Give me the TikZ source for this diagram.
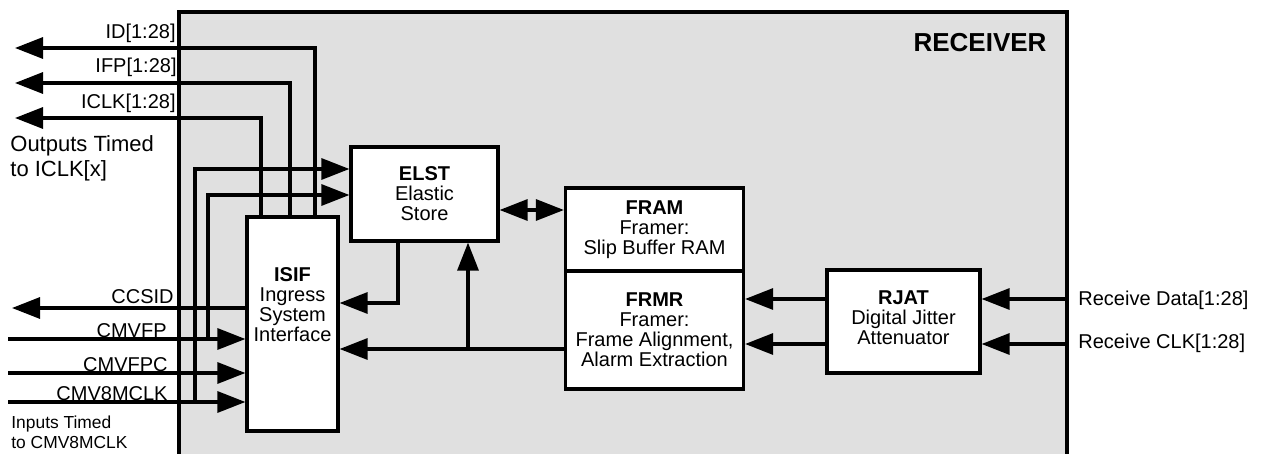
\documentclass[tikz,border=0pt]{standalone}
\usepackage{fontspec}
\setmainfont{Liberation Sans}
\usetikzlibrary{arrows.meta,positioning}
\definecolor{rxgray}{RGB}{224,224,224}

\tikzset{
  blk/.style={draw, fill=white, line width=1.6pt, inner sep=0pt, align=center, font=\fontsize{10}{10}\selectfont},
  lbl/.style={inner sep=0pt, font=\fontsize{10}{10}\selectfont},
  sig/.style={line width=1.6pt, -{Triangle[length=14pt,width=10.5pt]}},
  bus/.style={line width=1.6pt, {Triangle[length=14pt,width=10.5pt]}-{Triangle[length=14pt,width=10.5pt]}},
}

\begin{document}
\begin{tikzpicture}[x=0.5pt,y=-0.5pt]
        \clip (0,0) rectangle (1262,454);
        \draw[line width=1.6pt, fill=rxgray] (179,12) rectangle (1067,480);
        \node[font=\fontsize{13}{13}\selectfont\bfseries] (rx) at (980,43) {RECEIVER};

        \node[blk, minimum width=45.5pt, minimum height=107pt] (isif) at (292.5,324) {};
        \node[lbl, align=center] (isiftxt) at (292.5,305) {\textbf{ISIF}\\Ingress\\System\\Interface};
        \node[blk, minimum width=73.5pt, minimum height=47pt] (elst) at (424.5,194) {\textbf{ELST}\\Elastic\\Store};
        \node[blk, minimum width=89pt, minimum height=41.5pt] (fram) at (654.5,229.5) {\textbf{FRAM}\\Framer:\\Slip Buffer RAM};
        \node[blk, minimum width=89pt, minimum height=59pt] (frmr) at (654.5,330) {\textbf{FRMR}\\Framer:\\Frame Alignment,\\Alarm Extraction};
        \node[blk, minimum width=76.5pt, minimum height=51.5pt, text depth=4pt] (rjat) at (903.5,321.5) {\textbf{RJAT}\\Digital Jitter\\Attenuator};

        % outputs
        \coordinate (idout) at (15,48);   \coordinate (idc) at (315,48);
        \coordinate (ifpout) at (15,83);  \coordinate (ifpc) at (290,83);
        \coordinate (iclkout) at (15,118); \coordinate (iclkc) at (261,118);
        \draw[sig] (isif.north -| idc) -- (idc) -- (idout);
        \draw[sig] (isif.north -| ifpc) -- (ifpc) -- (ifpout);
        \draw[sig] (isif.north -| iclkc) -- (iclkc) -- (iclkout);
        \node[lbl, anchor=east] (idlbl) at (176,33) {ID[1:28]};
        \node[lbl, anchor=east] (ifplbl) at (177,67) {IFP[1:28]};
        \node[lbl, anchor=east] (iclklbl) at (176,103) {ICLK[1:28]};
        \node[inner sep=0pt, anchor=west, align=left, font=\fontsize{11}{12.5}\selectfont] (outnote) at (10,158) {Outputs Timed\\to ICLK[x]};

        % inputs
        \coordinate (ccsidout) at (12,308);
        \coordinate (vfpin) at (8,339);
        \coordinate (vfpcin) at (8,373);
        \coordinate (clkin) at (8,402);
        \draw[sig] (isif.west |- ccsidout) -- (ccsidout);
        \draw[sig] (vfpin) -- (isif.west |- vfpin);
        \draw[sig] (vfpcin) -- (isif.west |- vfpcin);
        \draw[sig] (clkin) -- (isif.west |- clkin);
        \node[lbl, anchor=east] (ccsidlbl) at (174,297) {CCSID};
        \node[lbl, anchor=east] (vfplbl) at (167,331) {CMVFP};
        \node[lbl, anchor=east] (vfpclbl) at (168,365) {CMVFPC};
        \node[lbl, anchor=east] (clklbl) at (168,394) {CMV8MCLK};
        \node[inner sep=0pt, anchor=west, align=left, font=\fontsize{8.7}{10}\selectfont] (innote) at (11,432) {Inputs Timed\\to CMV8MCLK};

        \coordinate (tapa) at (195,169);
        \coordinate (tapb) at (208,195);
        \draw[sig] (tapa |- clkin) -- (tapa) -- (elst.west |- tapa);
        \draw[sig] (tapb |- vfpin) -- (tapb) -- (elst.west |- tapb);

        % internal
        \coordinate (eback) at (398,303);
        \coordinate (frow) at (468,349);
        \coordinate (busrow) at (530,210);
        \draw[sig] (elst.south -| eback) -- (eback) -- (isif.east |- eback);
        \draw[sig] (frmr.west |- frow) -- (isif.east |- frow);
        \draw[sig] (frow) -- (elst.south -| frow);
        \draw[bus] (elst.east |- busrow) -- (fram.west |- busrow);

        \coordinate (rxdata) at (1067,299);
        \coordinate (rxclk) at (1067,344);
        \draw[sig] (rjat.west |- rxdata) -- (frmr.east |- rxdata);
        \draw[sig] (rjat.west |- rxclk) -- (frmr.east |- rxclk);
        \draw[sig] (rxdata) -- (rjat.east |- rxdata);
        \draw[sig] (rxclk) -- (rjat.east |- rxclk);
        \node[lbl, anchor=west] (rxdatalbl) at (1078,300) {Receive Data[1:28]};
        \node[lbl, anchor=west] (rxclklbl) at (1078,343) {Receive CLK[1:28]};
\end{tikzpicture}
\end{document}
